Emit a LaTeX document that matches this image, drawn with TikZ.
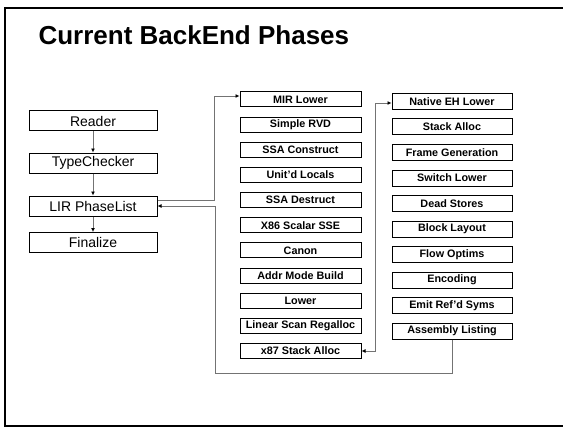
\documentclass[tikz,border=0pt]{standalone}
\usepackage{fontspec}
\setmainfont{Liberation Sans}
\usetikzlibrary{positioning, arrows.meta}

\tikzset{
    stage/.style={draw, line width=1pt, minimum width=128pt, minimum height=20pt,
        inner sep=0pt, font=\fontsize{14}{14}\selectfont},
    phase/.style={draw, line width=1pt, minimum width=121pt, minimum height=15pt,
        inner sep=0pt, font=\bfseries\fontsize{10.8}{11}\selectfont},
    flow/.style={draw=black!55, line width=0.9pt, -{Latex[length=4pt, width=4pt, color=black]}},
    twoway/.style={draw=black!55, line width=0.9pt,
        {Latex[length=4pt, width=4pt, color=black]}-{Latex[length=4pt, width=4pt, color=black]}}
}

\begin{document}
\begin{tikzpicture}[x=1pt, y=-1pt]
    \useasboundingbox (0,0) rectangle (563,428);
    \draw[line width=2pt] (563,8) -- (5,8) -- (5,426) -- (563,426);
    \node[anchor=base west, font=\bfseries\fontsize{26}{26}\selectfont] (title) at (35,45) {Current BackEnd Phases};

    % driver stages
    \foreach \name/\txt/\y in {reader/Reader/121, tc/TypeChecker/163, lir/LIR PhaseList/206, fin/Finalize/242.5}
    {
        \node[stage] (\name) at (93,\y) {\txt};
    }
    \foreach \a/\b in {reader/tc, tc/lir, lir/fin}
    {
        \draw[flow] (\a) -- (\b);
    }

    % LIR phases
    \foreach \name/\txt [count=\i from 0] in {mir/MIR Lower, rvd/Simple RVD, ssac/SSA Construct,
        uloc/Unit'd Locals, ssad/SSA Destruct, sse/X86 Scalar SSE, canon/Canon,
        amb/Addr Mode Build, low/Lower, lsra/Linear Scan Regalloc, xsa/x87 Stack Alloc}
    {
        \node[phase] (\name) at (300.5, 99.5+25.15*\i) {\txt};
    }
    \foreach \name/\txt [count=\i from 0] in {neh/Native EH Lower, salloc/Stack Alloc,
        fgen/Frame Generation, swl/Switch Lower, dead/Dead Stores, blay/Block Layout,
        fopt/Flow Optims, enc/Encoding, emit/Emit Ref'd Syms, asm/Assembly Listing}
    {
        \node[phase, minimum width=120pt, minimum height=16pt] (\name) at (452, 101.5+25.5*\i) {\txt};
    }

    \draw[flow] ([yshift=6pt]lir.east) -| ([xshift=-25pt, yshift=3.5pt]mir.west) -- ([yshift=3.5pt]mir.west);
    \draw[twoway] (xsa.east) -- ++(14,0) |- ([yshift=-1.5pt]neh.west);
    \draw[flow] (asm.south) |- (215,373) |- (lir.east);
\end{tikzpicture}
\end{document}
